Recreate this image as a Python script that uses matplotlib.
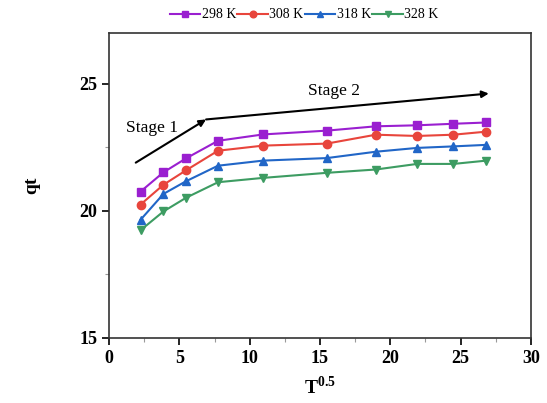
import matplotlib
matplotlib.use('Agg')
import matplotlib.pyplot as plt
from matplotlib.ticker import MultipleLocator

plt.rcParams['font.family'] = ['Liberation Serif', 'DejaVu Serif']
plt.rcParams['mathtext.fontset'] = 'custom'
plt.rcParams['mathtext.rm'] = 'Liberation Serif'
plt.rcParams['mathtext.bf'] = 'Liberation Serif:bold'

# sqrt of contact time
t_sqrt = [2.24, 3.87, 5.48, 7.75, 10.95, 15.49, 18.97, 21.91, 24.49, 26.83]

q_298 = [20.76, 21.52, 22.07, 22.76, 23.01, 23.16, 23.33, 23.37, 23.43, 23.48]
q_308 = [20.25, 21.03, 21.60, 22.37, 22.57, 22.65, 23.00, 22.95, 23.00, 23.12]
q_318 = [19.65, 20.67, 21.17, 21.78, 21.98, 22.08, 22.33, 22.48, 22.54, 22.60]
q_328 = [19.24, 19.98, 20.52, 21.13, 21.30, 21.50, 21.63, 21.85, 21.85, 21.98]

labels = ['298 K', '308 K', '318 K', '328 K']
colors = ['#9a1fd0', '#e8453c', '#2166c7', '#3d9c62']
markers = ['s', 'o', '^', 'v']

fig = plt.figure(figsize=(5.47, 4.03), dpi=100)
ax = fig.add_axes([0.1993, 0.1613, 0.7714, 0.7567])

series = [q_298, q_308, q_318, q_328]
for q, lab, c, m in zip(series, labels, colors, markers):
    ax.plot(t_sqrt, q, color=c, marker=m, markersize=6, linewidth=1.5, label=lab)

# stage arrows
ax.annotate('', xy=(6.9, 23.6), xytext=(1.9, 21.9),
            arrowprops=dict(arrowstyle='-|>', color='black', lw=1.5, mutation_scale=10,
                            shrinkA=0, shrinkB=0))
ax.annotate('', xy=(27.0, 24.62), xytext=(6.9, 23.6),
            arrowprops=dict(arrowstyle='-|>', color='black', lw=1.5, mutation_scale=10,
                            shrinkA=0, shrinkB=0))
ax.text(3.05, 23.26, 'Stage 1', fontsize=12.5, ha='center', va='center')
ax.text(16.0, 24.72, 'Stage 2', fontsize=12.5, ha='center', va='center')

ax.set_xlim(0, 30)
ax.set_ylim(15, 27)
ax.xaxis.set_major_locator(MultipleLocator(5))
ax.xaxis.set_minor_locator(MultipleLocator(2.5))
ax.yaxis.set_major_locator(MultipleLocator(5))
ax.yaxis.set_minor_locator(MultipleLocator(2.5))
ax.tick_params(which='major', direction='out', length=5, width=1.2, labelsize=13)
ax.tick_params(which='minor', direction='out', length=3, width=0.8, color='#999999')
for lbl in ax.get_xticklabels() + ax.get_yticklabels():
    lbl.set_fontweight('bold')
for s in ax.spines.values():
    s.set_linewidth(1.2)
    s.set_color('#333333')

ax.set_xlabel(r'T$^{\mathbf{0.5}}$', fontsize=14, fontweight='bold', labelpad=6)
ax.set_ylabel('qt', fontsize=14, fontweight='bold', labelpad=28)

fig.legend(loc='upper center', bbox_to_anchor=(0.556, 1.01), ncol=4, frameon=False,
           fontsize=10, handlelength=2.2, handletextpad=0.1, columnspacing=0.1,
           markerscale=0.8)

fig.savefig('out.png', dpi=100)
